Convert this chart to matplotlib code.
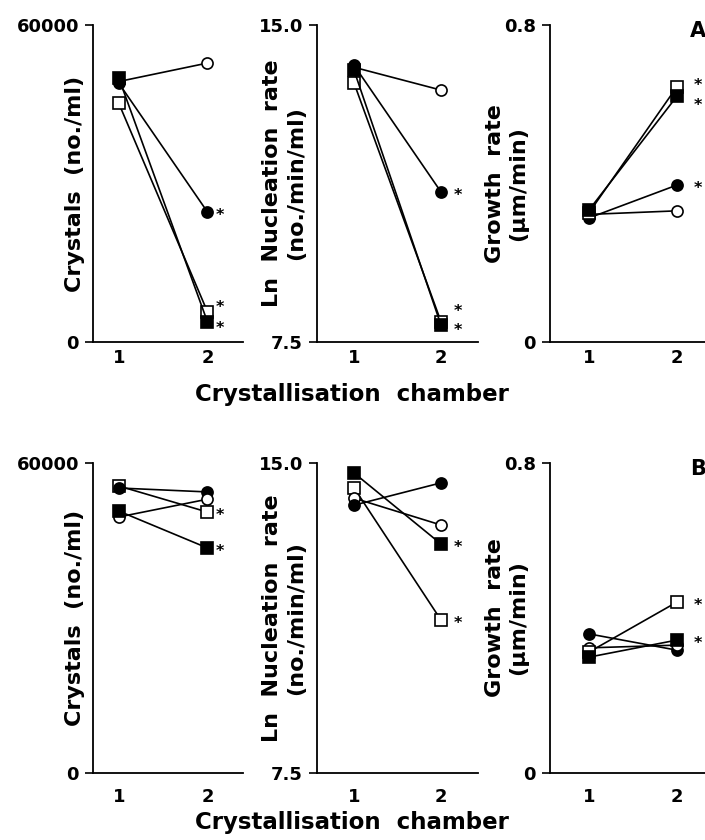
import numpy as np
import matplotlib.pyplot as plt

plt.rcParams['font.family'] = ['DejaVu Sans']
plt.rcParams['font.weight'] = 'bold'

chamber = [1, 2]

# marker styles: filled square, filled circle, open circle, open square
styles = {
    "fs": dict(marker="s", mfc="black"),
    "fc": dict(marker="o", mfc="black"),
    "oc": dict(marker="o", mfc="white"),
    "os": dict(marker="s", mfc="white"),
}

# panel A
a_crystals = {"os": [45200, 5700], "oc": [49300, 52800], "fc": [49000, 24600], "fs": [50000, 3800]}
a_nucleation = {"os": [13.63, 7.98], "oc": [14.0, 13.46], "fc": [14.05, 11.05], "fs": [13.93, 7.9]}
a_growth = {"oc": [0.322, 0.331], "fc": [0.313, 0.396], "os": [0.326, 0.644], "fs": [0.333, 0.62]}

# panel B
b_crystals = {"os": [55550, 50500], "fc": [55160, 54400], "oc": [49550, 53000], "fs": [50700, 43550]}
b_nucleation = {"os": [14.40, 11.20], "oc": [14.15, 13.50], "fc": [13.98, 14.52], "fs": [14.76, 13.04]}
b_growth = {"fc": [0.359, 0.317], "oc": [0.323, 0.330], "os": [0.312, 0.441], "fs": [0.299, 0.343]}

# significant at chamber 2 -> asterisk (series, vertical nudge in points)
a_stars = [[("fc", 0), ("os", 6), ("fs", -2)],
           [("fc", 0), ("os", 10), ("fs", -1)],
           [("os", 4), ("fs", -4), ("fc", 0)]]
b_stars = [[("os", 0), ("fs", 0)],
           [("fs", 0), ("os", 0)],
           [("os", 0), ("fs", 0)]]

ylims = [(0, 60000), (7.5, 15.0), (0, 0.8)]
yticklabels = [["0", "60000"], ["7.5", "15.0"], ["0", "0.8"]]
ylabels = ["Crystals  (no./ml)", "Ln  Nucleation  rate\n(no./min/ml)", "Growth  rate\n(\u03bcm/min)"]

W, H = 705, 840
fig = plt.figure(figsize=(W / 100, H / 100), dpi=100)

cols = [(93, 243, (0.71, 2.40), -0.12, 9),
        (317, 478, (0.575, 2.425), -0.205, 12),
        (550, 705, (0.557, 2.32), -0.28, 15)]
rows = [(25, 342, [a_crystals, a_nucleation, a_growth], a_stars, 5, 395, "A"),
        (463, 773, [b_crystals, b_nucleation, b_growth], b_stars, 11, 822, "B")]

for top, bottom, datasets, stars, xpad, xlab_y, letter in rows:
    for j, (left, right, xlim, labx, sdx) in enumerate(cols):
        ax = fig.add_axes([left / W, 1 - bottom / H, (right - left) / W, (bottom - top) / H])
        data = datasets[j]
        for key, vals in data.items():
            ax.plot(chamber, vals, color="black", lw=1.2, ms=8, mec="black", mew=1.2,
                    clip_on=False, **styles[key])
        for key, dy in stars[j]:
            ax.annotate("*", (2, data[key][1]), xytext=(sdx, dy - 6), textcoords="offset points",
                        ha="center", va="baseline", fontsize=11.5, fontweight="bold")
        ax.set_xlim(*xlim)
        ax.set_ylim(*ylims[j])
        ax.set_xticks(chamber)
        ax.set_xticklabels(["1", "2"])
        ax.set_yticks(ylims[j])
        ax.set_yticklabels(yticklabels[j])
        ax.tick_params(axis="x", length=0, pad=xpad, labelsize=13)
        ax.tick_params(axis="y", length=6, width=1.2, pad=4, labelsize=13)
        ax.spines["top"].set_visible(False)
        ax.spines["right"].set_visible(False)
        ax.spines["left"].set_linewidth(1.3)
        ax.spines["bottom"].set_linewidth(1.3)
        ax.set_ylabel(ylabels[j], fontsize=16, fontweight="bold", va="center", linespacing=1.25)
        ax.yaxis.set_label_coords(labx, 0.5)
    fig.text(352 / W, 1 - xlab_y / H, "Crystallisation  chamber", ha="center", va="center",
             fontsize=16.5, fontweight="bold")
    fig.text(698 / W, 1 - (top + 6) / H, letter, ha="center", va="center", fontsize=15, fontweight="bold")

plt.savefig("out.png", dpi=100)
